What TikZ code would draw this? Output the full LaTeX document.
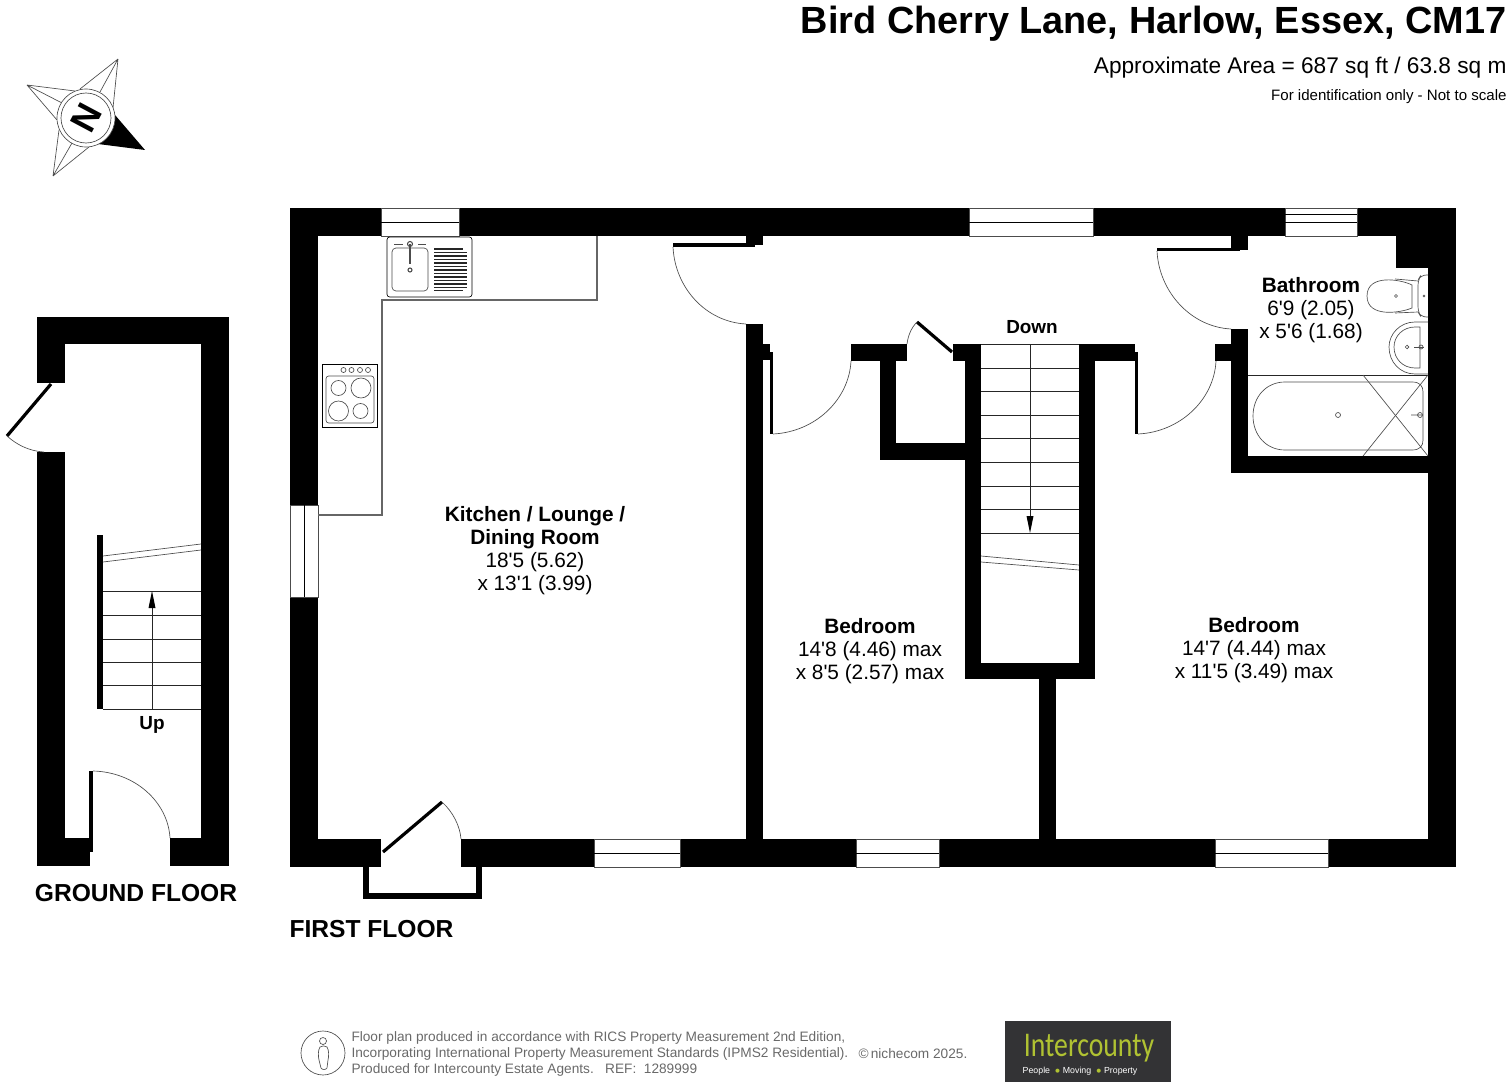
\documentclass[tikz,border=0pt]{standalone}
\usepackage{fontspec}
\setmainfont{Liberation Sans}[Ligatures=TeXOff]
\newfontfamily\logofont{Carlito}[Ligatures=TeXOff]
\definecolor{footgrey}{RGB}{105,105,105}
\definecolor{logodark}{RGB}{51,51,53}
\definecolor{logogreen}{RGB}{176,194,50}
\tikzset{every picture/.style={line width=0.75pt}}
\tikzset{
	wall/.style={fill=black,draw=none},
	pane/.style={fill=white,draw=black!70,line width=0.5pt},
	leaf/.style={line width=2.4pt,draw=black},
	swing/.style={line width=0.5pt,draw=black!70},
	tread/.style={line width=0.7pt,draw=black!85},
	fitting/.style={line width=0.5pt,draw=black!70},
	counter/.style={line width=0.8pt,draw=black!60},
	roomlabel/.style={align=center,font=\fontsize{15.6}{17.25}\selectfont},
	floorlabel/.style={font=\fontsize{18.45}{22}\selectfont\bfseries},
	footnote/.style={anchor=west,text=footgrey,font=\fontsize{10.25}{12}\selectfont,inner sep=0pt}
}

\begin{document}
\begin{tikzpicture}[x=0.75pt,y=0.75pt,yscale=-1,xscale=1]
	\useasboundingbox (0,0) rectangle (1512,1087);

	%Shape: Compass star
	\draw [fitting] (118,59) -- (80,89) (118,59) -- (100,92) (118,59) -- (113,108) ;
	\draw [fitting] (27,85) -- (75,91) (27,85) -- (62,103) (27,85) -- (57,120) ;
	\draw [fitting] (53,176) -- (59,130) (53,176) -- (72,143) (53,176) -- (89,147) ;
	\draw [wall] (145,150) -- (115,115) -- (98,144) -- cycle ;
	\draw [fitting,fill=white] (86,118) circle (29) ;
	\draw [fitting] (86,118) circle (25) ;
	\draw (86,118) node [rotate=-118,font=\fontsize{27}{27}\selectfont\bfseries] (compassn) {N};

	%Shape: Ground floor walls
	\draw [wall] (37,317) rectangle (229,344) ;
	\draw [wall] (37,317) rectangle (65,383) ;
	\draw [wall] (37,452) rectangle (65,866) ;
	\draw [wall] (201,317) rectangle (229,866) ;
	\draw [wall] (37,838) rectangle (90,866) ;
	\draw [wall] (170,838) rectangle (229,866) ;
	\draw [wall] (97,535) rectangle (103,709) ;

	%Shape: Ground floor doors
	\draw [leaf] (51,384) -- (7,436) ;
	\draw [swing] (7,436) .. controls (16,444) and (28,451) .. (44,452) ;
	\draw [wall] (89,771) rectangle (93,852) ;
	\draw [swing] (93,771) .. controls (135,772) and (168,802) .. (170,838) ;

	%Straight Lines: Ground floor stairs
	\draw [tread] (103,591) -- (201,591) ;
	\draw [tread] (103,615) -- (201,615) ;
	\draw [tread] (103,639) -- (201,639) ;
	\draw [tread] (103,662) -- (201,662) ;
	\draw [tread] (103,685) -- (201,685) ;
	\draw [tread] (103,709) -- (201,709) ;
	\draw [tread] (152,709) -- (152,595) ;
	\draw [wall] (152,591) -- (148.5,608) -- (155.5,608) -- cycle ;
	\draw [fitting] (103,556) -- (201,544) ;
	\draw [fitting] (103,562) -- (201,550) ;

	%Shape: First floor outer walls
	\draw [wall] (290,208) rectangle (1456,236) ;
	\draw [wall] (290,208) rectangle (318,867) ;
	\draw [wall] (1428,208) rectangle (1456,867) ;
	\draw [wall] (290,839) rectangle (381,867) ;
	\draw [wall] (461,839) rectangle (1456,867) ;
	\draw [wall] (1396,236) rectangle (1428,268) ;

	%Shape: Porch
	\draw [wall] (363,867) rectangle (369,899) ;
	\draw [wall] (476,867) rectangle (482,899) ;
	\draw [wall] (363,893) rectangle (482,899) ;

	%Shape: Inner walls
	\draw [wall] (746,236) rectangle (763,245) ;
	\draw [wall] (746,324) rectangle (763,839) ;
	\draw [wall] (763,344) rectangle (770,360) ;
	\draw [wall] (851,344) rectangle (907,361) ;
	\draw [wall] (880,344) rectangle (896,460) ;
	\draw [wall] (880,443) rectangle (965,460) ;
	\draw [wall] (953,344) rectangle (981,361) ;
	\draw [wall] (965,344) rectangle (981,679) ;
	\draw [wall] (1079,344) rectangle (1135,361) ;
	\draw [wall] (1079,344) rectangle (1095,679) ;
	\draw [wall] (965,663) rectangle (1095,679) ;
	\draw [wall] (1039,679) rectangle (1056,839) ;
	\draw [wall] (1231,236) rectangle (1248,250) ;
	\draw [wall] (1231,329) rectangle (1248,473) ;
	\draw [wall] (1215,344) rectangle (1231,361) ;
	\draw [wall] (1231,456) rectangle (1428,473) ;

	%Shape: First floor windows
	\draw [pane] (381,208) rectangle (459,236) ;
	\draw [fitting,draw=black] (381,222) -- (459,222) ;
	\draw [pane] (969,208) rectangle (1093,236) ;
	\draw [fitting,draw=black] (969,222) -- (1093,222) ;
	\draw [pane] (1285,208) rectangle (1357,236) ;
	\draw [fitting,draw=black] (1285,214) -- (1357,214) (1285,222) -- (1357,222) ;
	\draw [pane] (290,505) rectangle (318,597) ;
	\draw [fitting,draw=black] (304,505) -- (304,597) ;
	\draw [pane] (594,839) rectangle (680,867) ;
	\draw [fitting,draw=black] (594,853) -- (680,853) ;
	\draw [pane] (856,839) rectangle (939,867) ;
	\draw [fitting,draw=black] (856,853) -- (939,853) ;
	\draw [pane] (1215,839) rectangle (1328,867) ;
	\draw [fitting,draw=black] (1215,853) -- (1328,853) ;

	%Shape: First floor doors
	\draw [leaf] (383,852) -- (442,802) ;
	\draw [swing] (442,802) .. controls (453,812) and (460,826) .. (461,839) ;
	\draw [wall] (673,243) rectangle (755,247) ;
	\draw [swing] (673,247) .. controls (675,288) and (706,322) .. (746,324) ;
	\draw [wall] (770,352) rectangle (773,434) ;
	\draw [swing] (773,434) .. controls (815,432) and (849,400) .. (851,361) ;
	\draw [leaf] (917,322) -- (952,352) ;
	\draw [swing] (917,322) .. controls (911,328) and (908,336) .. (907,344) ;
	\draw [wall] (1135,352) rectangle (1138,434) ;
	\draw [swing] (1138,434) .. controls (1180,432) and (1214,400) .. (1216,361) ;
	\draw [wall] (1157,248) rectangle (1240,251) ;
	\draw [swing] (1157,251) .. controls (1159,292) and (1191,327) .. (1231,329) ;

	%Straight Lines: First floor stairs
	\draw [tread] (981,344) -- (1079,344) ;
	\draw [tread] (981,368) -- (1079,368) ;
	\draw [tread] (981,391) -- (1079,391) ;
	\draw [tread] (981,415) -- (1079,415) ;
	\draw [tread] (981,438) -- (1079,438) ;
	\draw [tread] (981,462) -- (1079,462) ;
	\draw [tread] (981,486) -- (1079,486) ;
	\draw [tread] (981,509) -- (1079,509) ;
	\draw [tread] (981,533) -- (1079,533) ;
	\draw [tread] (1030,344) -- (1030,529) ;
	\draw [wall] (1030,533) -- (1026.5,516) -- (1033.5,516) -- cycle ;
	\draw [fitting] (981,556) -- (1079,565) ;
	\draw [fitting] (981,562) -- (1079,570) ;

	%Straight Lines: Kitchen counter
	\draw [counter] (597,236) -- (597,300) -- (382,300) -- (382,515) -- (318,515) ;

	%Shape: Sink and drainer
	\draw [fitting,draw=black,fill=white,rounded corners=2] (387,237) rectangle (472,297) ;
	\draw [fitting,rounded corners=3] (392,248) rectangle (428,291) ;
	\draw [fitting,line width=1.6pt] (410,244) -- (410,264) ;
	\draw [fitting,line width=0.8pt] (410,244) circle (2.5) (410,270) circle (2) ;
	\draw [fitting,line width=1pt] (394,244.5) -- (403,244.5) (418,244.5) -- (426,244.5) ;
	\draw [tread,line width=0.9pt] (434,249) -- (463,249) ;
	\draw [tread,line width=0.9pt] (434,252.5) -- (467,252.5) ;
	\draw [tread,line width=0.9pt] (434,256) -- (467,256) ;
	\draw [tread,line width=0.9pt] (434,259.5) -- (467,259.5) ;
	\draw [tread,line width=0.9pt] (434,263) -- (467,263) ;
	\draw [tread,line width=0.9pt] (434,266.5) -- (467,266.5) ;
	\draw [tread,line width=0.9pt] (434,270) -- (467,270) ;
	\draw [tread,line width=0.9pt] (434,273.5) -- (467,273.5) ;
	\draw [tread,line width=0.9pt] (434,277) -- (467,277) ;
	\draw [tread,line width=0.9pt] (434,280.5) -- (467,280.5) ;
	\draw [tread,line width=0.9pt] (434,284) -- (467,284) ;
	\draw [tread,line width=0.9pt] (434,287.5) -- (467,287.5) ;
	\draw [tread,line width=0.9pt] (434,290.5) -- (463,290.5) ;

	%Shape: Cooker
	\draw [fitting,draw=black] (322,364) rectangle (377,427) ;
	\draw [fitting,rounded corners=2] (326,376) rectangle (374,423) ;
	\draw [fitting] (343.5,370) circle (2.5) (351.5,370) circle (2.5) (360,370) circle (2.5) (368,370) circle (2.5) ;
	\draw [fitting] (338.5,388) circle (7.5) (361,388) circle (10) (338.5,411) circle (10) (360.5,411) circle (7.5) ;

	%Shape: Toilet
	\draw [fitting] (1412,285) .. controls (1400,279) and (1367,274) .. (1367,296) .. controls (1367,318) and (1400,313) .. (1412,308) -- cycle ;
	\draw [fitting] (1395,279) -- (1418,281) (1395,313) -- (1418,312) ;
	\draw [fitting,rounded corners=4] (1428,275) -- (1421,275) -- (1418,280) -- (1418,312) -- (1421,317) -- (1428,317) ;
	\draw [fitting] (1396,296) circle (1.5) (1424,296) circle (1) ;

	%Shape: Basin
	\draw [fitting] (1428,322) -- (1415,322) .. controls (1400,322) and (1389,334) .. (1389,347) .. controls (1389,362) and (1400,374) .. (1415,374) -- (1428,374) ;
	\draw [fitting] (1420,327) -- (1415,327) .. controls (1403,327) and (1394,336) .. (1394,347) .. controls (1394,359) and (1403,368) .. (1415,368) -- (1420,368) -- cycle ;
	\draw [fitting] (1407,347) circle (1.8) (1421,347) circle (2) ;
	\draw [fitting] (1414,347) -- (1424,347) ;

	%Shape: Bath
	\draw [tread] (1248,375) -- (1428,375) ;
	\draw [fitting] (1285,382) -- (1412,382) .. controls (1420,382) and (1423,386) .. (1423,392) -- (1423,440) .. controls (1423,446) and (1420,450) .. (1412,450) -- (1285,450) .. controls (1266,450) and (1253,435) .. (1253,416) .. controls (1253,397) and (1266,382) .. (1285,382) -- cycle ;
	\draw [fitting] (1363,375) -- (1428,456) ;
	\draw [fitting] (1363,456) -- (1428,375) ;
	\draw [fitting] (1338,415) circle (2.5) ;
	\draw [fitting] (1411,415) -- (1423,415) (1420,415) circle (2.5) ;

	% Text Node
	\draw (1507,24) node [anchor=east,inner sep=0pt,font=\fontsize{28.4}{30}\selectfont\bfseries] (titlelbl) {Bird Cherry Lane, Harlow, Essex, CM17};
	% Text Node
	\draw (1507,68) node [anchor=east,inner sep=0pt,font=\fontsize{17}{20}\selectfont] (arealbl) {Approximate Area = 687 sq ft / 63.8 sq m};
	% Text Node
	\draw (1507,97) node [anchor=east,inner sep=0pt,font=\fontsize{11.3}{13}\selectfont] (scalelbl) {For identification only - Not to scale};
	% Text Node
	\draw (535,551) node [roomlabel] (kitchenlbl) {\textbf{Kitchen / Lounge /}\\\textbf{Dining Room}\\18'5 (5.62)\\x 13'1 (3.99)};
	% Text Node
	\draw (870,651) node [roomlabel] (bedroomalbl) {\textbf{Bedroom}\\14'8 (4.46) max\\x 8'5 (2.57) max};
	% Text Node
	\draw (1254,650) node [roomlabel] (bedroomblbl) {\textbf{Bedroom}\\14'7 (4.44) max\\x 11'5 (3.49) max};
	% Text Node
	\draw (1311,310) node [roomlabel] (bathroomlbl) {\textbf{Bathroom}\\6'9 (2.05)\\x 5'6 (1.68)};
	% Text Node
	\draw (1032,327) node [font=\fontsize{14.2}{15}\selectfont\bfseries,inner sep=0pt] (downlbl) {Down};
	% Text Node
	\draw (152,724.5) node [font=\fontsize{14.2}{15}\selectfont\bfseries,inner sep=0pt] (uplbl) {Up};
	% Text Node
	\draw (136,893) node [floorlabel,inner sep=0pt] (groundlbl) {GROUND FLOOR};
	% Text Node
	\draw (289,929) node [floorlabel,anchor=west,inner sep=0pt] (firstlbl) {FIRST FLOOR};

	%Shape: Person icon
	\draw [fitting] (323,1053) circle (22) ;
	\draw [fitting] (323,1041) circle (3.5) ;
	\draw [fitting] (320,1047) .. controls (322,1045.5) and (325,1045.5) .. (327,1047) .. controls (329,1050) and (329,1056) .. (328,1060) -- (327,1068) .. controls (326,1070) and (322,1070) .. (321,1068) -- (319,1060) .. controls (318,1056) and (318,1050) .. (320,1047) -- cycle ;

	% Text Node
	\draw (351,1038) node [footnote] (foota) {Floor plan produced in accordance with RICS Property Measurement 2nd Edition,};
	% Text Node
	\draw (351,1054) node [footnote] (footb) {Incorporating International Property Measurement Standards (IPMS2 Residential).};
	% Text Node
	\draw (351,1070) node [footnote] (footc) {Produced for Intercounty Estate Agents.\ \ \ REF:\ \ 1289999};
	% Text Node
	\draw (858,1054) node [footnote] (footd) {\textcopyright\,nichecom 2025.};

	%Shape: Logo
	\draw [fill=logodark,draw=none] (1005,1021) rectangle (1171,1082) ;
	% Text Node
	\draw (1089,1056) node [anchor=base,text=logogreen,inner sep=0pt,xscale=0.8,font=\logofont\fontsize{26}{26}\selectfont] (logoname) {Intercounty};
	% Text Node
	\draw (1080,1071) node [text=white,inner sep=0pt,font=\fontsize{6.6}{8}\selectfont] (logoline) {People \ {\color{logogreen}$\bullet$}\ Moving \ {\color{logogreen}$\bullet$}\ Property};

\end{tikzpicture}
\end{document}
